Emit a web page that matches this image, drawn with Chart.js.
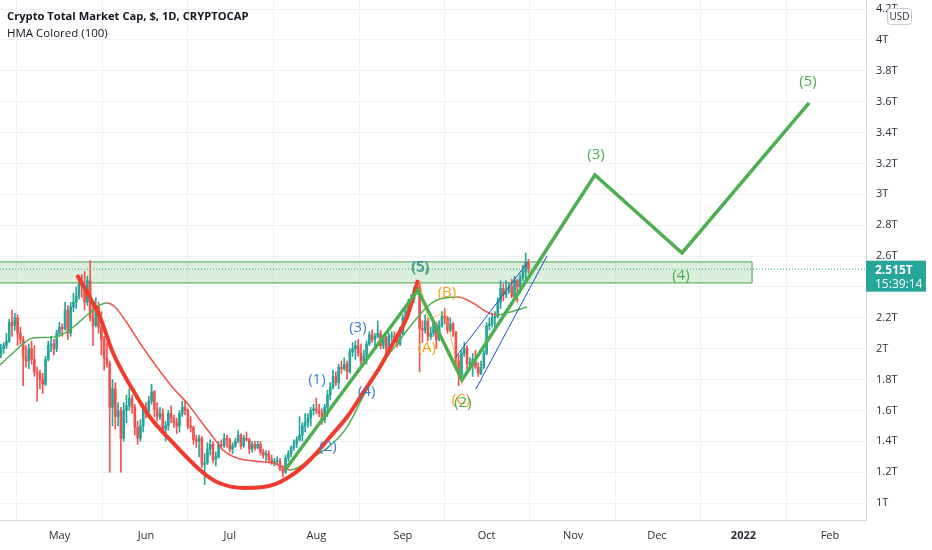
<!DOCTYPE html>
<html>
<head>
<meta charset="utf-8">
<script src="https://cdn.jsdelivr.net/npm/chart.js@4.4.0/dist/chart.umd.min.js"></script>
<style>
html, body { margin: 0; padding: 0; background: #fff; }
#wrap { width: 932px; height: 550px; position: relative; }
</style>
</head>
<body>
<div id="wrap"><canvas id="capChart"></canvas></div>
<script>
// daily candles of total crypto market cap (trillions USD), first candle 2021-04-10
var firstDate = '2021-04-10';
var firstOpen = 1.96;
var closes = [
  2.00,2.02,2.05,2.17,2.15,2.20,2.10,2.06,1.95,1.92,2.00,1.93,1.85,1.84,1.80,1.77,1.93,2.02,2.03,2.00,2.10,
  2.14,2.13,2.25,2.10,2.27,2.30,2.34,2.42,2.41,2.30,2.44,2.20,2.15,2.28,2.14,2.06,1.94,1.90,1.62,1.74,1.56,1.60,1.42,1.60,1.63,1.68,1.62,1.49,1.42,1.50,1.62,
  1.60,1.66,1.72,1.61,1.56,1.58,1.48,1.50,1.58,1.55,1.52,1.50,1.58,1.62,1.60,1.50,1.49,1.41,1.40,1.42,1.25,1.26,1.35,1.38,1.28,1.30,1.38,1.37,1.42,1.41,
  1.35,1.37,1.40,1.44,1.37,1.42,1.41,1.35,1.38,1.36,1.38,1.33,1.31,1.32,1.28,1.26,1.27,1.27,1.22,1.20,1.29,1.32,1.36,1.39,1.41,1.44,1.50,1.52,1.55,1.60,1.61,
  1.60,1.58,1.54,1.62,1.70,1.75,1.82,1.78,1.88,1.87,1.90,1.85,1.98,2.00,2.02,1.97,1.92,1.95,2.03,2.09,2.06,2.08,2.10,2.02,2.07,2.00,2.08,2.08,2.07,2.03,2.10,
  2.20,2.24,2.30,2.32,2.38,2.40,2.13,2.12,2.18,2.08,2.10,2.16,2.06,2.15,2.21,2.20,2.12,2.16,2.11,1.92,1.83,1.97,2.00,1.90,1.91,1.93,1.88,1.84,1.88,1.97,
  2.15,2.16,2.20,2.21,2.30,2.39,2.35,2.37,2.40,2.34,2.44,2.40,2.46,2.50,2.56,2.515
];
var highs = [
  2.03,2.04,2.10,2.19,2.25,2.23,2.22,2.14,2.08,2.02,2.03,2.05,2.02,1.88,1.86,1.84,1.95,2.05,2.08,2.06,2.12,
  2.17,2.16,2.30,2.28,2.30,2.36,2.40,2.45,2.48,2.50,2.47,2.57,2.30,2.33,2.30,2.24,2.08,2.04,1.92,1.80,1.78,1.65,1.62,1.65,1.70,1.74,1.70,1.64,1.53,1.54,1.64,
  1.65,1.69,1.77,1.73,1.65,1.62,1.61,1.53,1.60,1.63,1.57,1.55,1.60,1.66,1.66,1.61,1.56,1.50,1.44,1.44,1.43,1.32,1.39,1.41,1.40,1.33,1.40,1.41,1.45,1.44,
  1.42,1.39,1.42,1.47,1.45,1.44,1.46,1.42,1.40,1.40,1.40,1.40,1.35,1.34,1.34,1.31,1.29,1.30,1.29,1.24,1.31,1.34,1.37,1.41,1.43,1.56,1.52,1.58,1.58,1.62,1.64,
  1.68,1.64,1.61,1.64,1.73,1.78,1.86,1.85,1.90,1.92,1.94,1.92,2.00,2.04,2.05,2.06,2.03,1.99,2.05,2.11,2.12,2.10,2.18,2.12,2.09,2.08,2.10,2.11,2.11,2.10,2.14,
  2.22,2.28,2.32,2.35,2.40,2.44,2.42,2.18,2.22,2.20,2.14,2.18,2.17,2.18,2.24,2.26,2.21,2.20,2.17,2.11,1.96,1.99,2.04,2.02,1.94,1.97,1.99,1.91,1.92,1.99,
  2.17,2.20,2.23,2.24,2.33,2.44,2.42,2.44,2.43,2.45,2.47,2.45,2.48,2.54,2.62,2.58
];
var lows = [
  1.94,1.97,2.00,2.04,2.08,2.12,2.02,2.03,1.76,1.88,1.87,1.90,1.82,1.66,1.74,1.71,1.76,1.92,1.98,1.96,1.98,
  2.08,2.08,2.12,2.06,2.08,2.24,2.26,2.32,2.33,2.25,2.28,2.18,2.02,2.14,2.10,1.96,1.86,1.88,1.20,1.50,1.48,1.50,1.20,1.40,1.52,1.60,1.58,1.44,1.38,1.40,1.46,
  1.55,1.58,1.64,1.56,1.53,1.54,1.46,1.40,1.47,1.52,1.49,1.45,1.46,1.56,1.57,1.48,1.46,1.38,1.36,1.30,1.23,1.12,1.25,1.31,1.26,1.24,1.29,1.35,1.36,1.36,
  1.33,1.32,1.36,1.39,1.35,1.36,1.40,1.32,1.33,1.34,1.35,1.31,1.29,1.27,1.26,1.25,1.24,1.25,1.21,1.17,1.19,1.27,1.30,1.34,1.36,1.40,1.40,1.46,1.49,1.50,1.57,
  1.58,1.56,1.51,1.52,1.56,1.67,1.74,1.76,1.74,1.84,1.86,1.80,1.84,1.95,1.93,1.95,1.90,1.90,1.90,2.02,2.04,2.02,2.07,2.00,2.00,1.97,1.99,2.05,2.04,2.01,2.02,
  2.09,2.19,2.21,2.28,2.30,2.35,1.85,2.04,2.10,2.05,2.06,2.08,2.00,2.05,2.14,2.16,2.10,2.11,2.08,1.86,1.76,1.82,1.95,1.84,1.86,1.82,1.87,1.82,1.83,1.87,
  1.96,2.12,2.14,2.12,2.20,2.26,2.31,2.33,2.36,2.33,2.32,2.30,2.36,2.44,2.45,2.49
];
var lastPrice = 2.515;

// axis ticks
var monthDates = ['2021-05-01','2021-06-01','2021-07-01','2021-08-01','2021-09-01','2021-10-01','2021-11-01','2021-12-01','2022-01-01','2022-02-01'];
var monthLabels = ['May','Jun','Jul','Aug','Sep','Oct','Nov','Dec','2022','Feb'];
var priceTicks = [1,1.2,1.4,1.6,1.8,2,2.2,2.4,2.6,2.8,3,3.2,3.4,3.6,3.8,4,4.2];

// HMA(100) line, day offsets from 2021-05-01
var hmaDays = [-21.3,-16.7,-9.5,-5.9,-0.9,4.5,9.9,14.5,17.0,19.9,24.2,28.8,34.9,40.7,45.7,50.3,55.0,58.6,63.6,69.3,76.5,80.1,82.6,
  91.0,98.0,103.0,108.7,114.8,121.9,126.6,131.6,135.2,139.9,142.7,148.1,153.1,156.7,160.3,167.5];
var hmaValues = [1.894,1.972,2.069,2.072,2.078,2.134,2.218,2.283,2.296,2.270,2.166,2.037,1.881,1.745,1.648,1.538,1.428,1.343,1.292,1.272,1.259,1.233,1.214,
  1.298,1.389,1.492,1.687,1.881,2.056,2.166,2.270,2.315,2.333,2.335,2.296,2.238,2.218,2.231,2.270];

// hand drawn rounding bottom (red)
var arcDays = [6.3,14.5,19.2,26.3,32.4,40.7,50.3,56.4,66.4,76.5,83.6,90.3,96.9,103.0,108.7,114.8,119.5,124.5,128.4];
var arcValues = [2.477,2.205,1.972,1.732,1.557,1.389,1.214,1.136,1.097,1.117,1.185,1.290,1.428,1.557,1.713,1.881,2.037,2.205,2.445];

// Elliott wave projection (green)
var waveDays = [80.8,128.4,144.2,191.8,223.0,268.5];
var waveValues = [1.214,2.380,1.797,3.125,2.620,3.592];

// corrective A-B-C sketch (orange)
var abcDays = [129.1,132.0,138.1,144.2];
var abcValues = [2.426,2.186,2.238,1.765];

// rising channel (blue)
var chanUpDays = [141.7,167.5];
var chanUpValues = [1.940,2.555];
var chanLowDays = [149.2,174.6];
var chanLowValues = [1.739,2.600];

// resistance zone
var zoneTop = 2.562;
var zoneBottom = 2.426;
var zoneEndDay = 248.1;

// wave count labels
var labelTexts = ['(1)','(2)','(3)','(4)','(5)','(A)','(B)','(C)','(5)','(2)','(3)','(4)','(5)'];
var labelDays = [92.2,96.2,106.9,110.1,129.1,131.6,138.8,143.8,129.4,144.5,192.2,222.6,268.1];
var labelValues = [1.797,1.363,2.134,1.719,2.529,2.004,2.361,1.667,2.522,1.648,3.255,2.471,3.728];
var labelColors = ['#3d7fd0','#3d7fd0','#3d7fd0','#3d7fd0','#3d7fd0','#f5a31f','#f5a31f','#f5a31f','#4caf50','#4caf50','#4caf50','#4caf50','#4caf50'];

var upColor = '#26a69a';
var downColor = '#ef5350';
var xMin = -21.3, xMax = 288.9;
var yMin = 0.89, yMax = 4.259;

function dayOf(s) { return (Date.parse(s) - Date.parse('2021-05-01')) / 864e5; }
function pts(xs, ys) { return xs.map(function(x, i) { return {x: x, y: ys[i]}; }); }

var startDay = dayOf(firstDate);
var bodies = [], wicks = [], candleColors = [];
for (var i = 0; i < closes.length; i++) {
  var o = i === 0 ? firstOpen : closes[i - 1];
  bodies.push({x: startDay + i, y: [o, closes[i]]});
  wicks.push({x: startDay + i, y: [lows[i], highs[i]]});
  candleColors.push(closes[i] >= o ? upColor : downColor);
}
var monthDays = monthDates.map(dayOf);

var overlay = {
  id: 'overlay',
  afterDraw: function(chart) {
    var ctx = chart.ctx, xs = chart.scales.x, ys = chart.scales.y;
    ctx.save();
    // wave labels
    ctx.font = '15px "Open Sans"';
    ctx.textAlign = 'center';
    ctx.textBaseline = 'middle';
    for (var i = 0; i < labelTexts.length; i++) {
      ctx.fillStyle = labelColors[i];
      ctx.fillText(labelTexts[i], xs.getPixelForValue(labelDays[i]), ys.getPixelForValue(labelValues[i]));
    }
    // last price tag
    var py = ys.getPixelForValue(lastPrice);
    ctx.fillStyle = upColor;
    ctx.fillRect(xs.right, py - 8.5, 60, 31);
    ctx.fillStyle = '#fff';
    ctx.textAlign = 'left';
    ctx.font = 'bold 12px "Open Sans"';
    ctx.fillText('2.515T', xs.right + 9, py + 1);
    ctx.font = '12px "Open Sans"';
    ctx.fillText('15:39:14', xs.right + 9, py + 15);
    // currency badge
    ctx.fillStyle = '#fff';
    ctx.strokeStyle = '#c9ccd3';
    ctx.lineWidth = 1;
    ctx.beginPath();
    ctx.roundRect(887.5, 8.5, 24, 16, 3);
    ctx.fill();
    ctx.stroke();
    ctx.fillStyle = '#2a2e39';
    ctx.textAlign = 'center';
    ctx.font = '10px "Open Sans"';
    ctx.fillText('USD', 899.5, 17);
    // legend text
    ctx.textAlign = 'left';
    ctx.fillStyle = '#131722';
    ctx.font = 'bold 11.2px "Open Sans"';
    ctx.fillText('Crypto Total Market Cap, $, 1D, CRYPTOCAP', 7, 17);
    ctx.font = '11.5px "Open Sans"';
    ctx.fillText('HMA Colored (100)', 7, 34);
    ctx.restore();
  }
};

var ctx = document.getElementById('capChart').getContext('2d');
var capChart = new Chart(ctx, {
  type: 'bar',
  data: {
    datasets: [
      { type: 'line', data: pts(waveDays, waveValues), borderColor: '#4caf50', borderWidth: 3.5, pointRadius: 0, order: 1 },
      { type: 'line', data: pts(chanUpDays, chanUpValues), borderColor: '#1f4fc4', borderWidth: 1, pointRadius: 0, order: 2 },
      { type: 'line', data: pts(chanLowDays, chanLowValues), borderColor: '#1f4fc4', borderWidth: 1, pointRadius: 0, order: 2 },
      { type: 'line', data: pts(arcDays, arcValues), borderColor: '#f23b2c', borderWidth: 4, pointRadius: 0,
        cubicInterpolationMode: 'monotone', order: 3 },
      { type: 'line', data: pts(abcDays, abcValues), borderColor: 'rgba(245,163,31,0.7)', borderWidth: 1, pointRadius: 0, order: 4 },
      { type: 'line', data: pts(hmaDays, hmaValues), borderWidth: 1.5, pointRadius: 0, cubicInterpolationMode: 'monotone',
        borderColor: '#4caf50',
        segment: { borderColor: function(c) { return c.p1.parsed.y >= c.p0.parsed.y ? '#4caf50' : '#f0524a'; } },
        order: 5 },
      { data: bodies, backgroundColor: candleColors, barThickness: 2, minBarLength: 1, grouped: false, order: 6 },
      { data: wicks, backgroundColor: candleColors, barThickness: 1, grouped: false, order: 7 },
      { type: 'line', data: [{x: xMin, y: lastPrice}, {x: xMax, y: lastPrice}], borderColor: upColor, borderWidth: 1,
        borderDash: [1, 2], pointRadius: 0, order: 8 },
      { type: 'line', data: [{x: zoneEndDay, y: zoneBottom}, {x: zoneEndDay, y: zoneTop}], borderColor: '#43a047', borderWidth: 1,
        pointRadius: 0, order: 9 },
      { type: 'line', data: [{x: xMin, y: zoneTop}, {x: zoneEndDay, y: zoneTop}], borderColor: '#43a047', borderWidth: 1,
        pointRadius: 0, fill: '+1', backgroundColor: 'rgba(76,175,80,0.2)', order: 10 },
      { type: 'line', data: [{x: xMin, y: zoneBottom}, {x: zoneEndDay, y: zoneBottom}], borderColor: '#43a047', borderWidth: 1,
        pointRadius: 0, order: 11 }
    ]
  },
  options: {
    responsive: true,
    maintainAspectRatio: false,
    animation: false,
    layout: { padding: 0 },
    plugins: { legend: { display: false }, tooltip: { enabled: false } },
    scales: {
      x: {
        type: 'linear',
        min: xMin,
        max: xMax,
        offset: false,
        afterBuildTicks: function(s) { s.ticks = monthDays.map(function(d) { return {value: d}; }); },
        afterFit: function(s) { s.height = 30; s.paddingLeft = 0; s.paddingRight = 0; },
        grid: { color: '#eef0f3', drawTicks: false },
        border: { color: '#d6d8dd' },
        ticks: {
          padding: 9,
          color: '#2a2e39',
          maxRotation: 0,
          autoSkip: false,
          font: function(c) { return { family: 'Open Sans', size: 11, weight: (c.tick && c.index === 8) ? 'bold' : 'normal' }; },
          callback: function(v, i) { return monthLabels[i]; }
        }
      },
      y: {
        type: 'linear',
        position: 'right',
        min: yMin,
        max: yMax,
        afterBuildTicks: function(s) { s.ticks = priceTicks.map(function(v) { return {value: v}; }); },
        afterFit: function(s) { s.width = 66; s.paddingTop = 0; s.paddingBottom = 0; },
        grid: { color: '#eef0f3', drawTicks: false },
        border: { color: '#d6d8dd' },
        ticks: {
          padding: 10,
          color: '#2a2e39',
          font: { family: 'Open Sans', size: 11 },
          callback: function(v) { return (Math.round(v * 10) / 10) + 'T'; }
        }
      }
    }
  },
  plugins: [overlay]
});
</script>
</body>
</html>
